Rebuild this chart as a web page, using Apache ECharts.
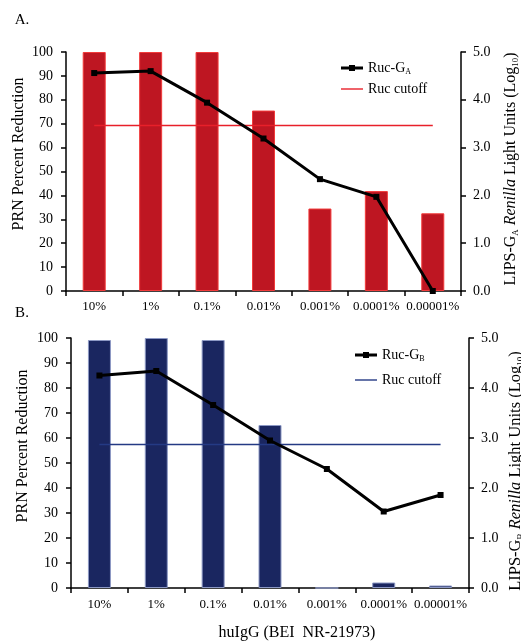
<!DOCTYPE html>
<html>
<head>
<meta charset="utf-8">
<script src="https://cdn.jsdelivr.net/npm/echarts@6/dist/echarts.min.js"></script>
<style>
html,body{margin:0;padding:0;background:#fff;}
#c{width:521px;height:644px;}
</style>
</head>
<body>
<div id="c"></div>
<script>
const categories = ['10%', '1%', '0.1%', '0.01%', '0.001%', '0.0001%', '0.00001%'];
const prnA = [100, 100, 100, 75.5, 34.5, 41.8, 32.5];
const lipsA = [4.56, 4.60, 3.94, 3.19, 2.34, 1.97, 0.0];
const cutoffA = 3.46;
const prnB = [99.2, 100, 99.2, 65.2, 0, 2.2, 1.0];
const lipsB = [4.25, 4.34, 3.66, 2.95, 2.38, 1.53, 1.86];
const cutoffB = 2.87;
const leftTicks = { min: 0, max: 100, interval: 10 };
const rightTicks = { min: 0, max: 5, interval: 1 };

const FONT = 'Liberation Serif';
const chart = echarts.init(document.getElementById('c'), null, { renderer: 'canvas' });

const axisLineStyle = { show: true, lineStyle: { color: '#000', width: 1.5 } };
const tickStyle = { show: true, length: 5, lineStyle: { color: '#000', width: 1.5 } };

function xAxis(gridIndex, margin) {
  return {
    type: 'category', gridIndex, data: categories,
    axisLine: axisLineStyle, axisTick: tickStyle,
    axisLabel: { fontFamily: FONT, fontSize: 13, color: '#000', margin, interval: 0 },
    splitLine: { show: false }
  };
}
function yLeft(gridIndex, margin) {
  return {
    type: 'value', gridIndex, position: 'left',
    min: leftTicks.min, max: leftTicks.max, interval: leftTicks.interval,
    axisLine: axisLineStyle, axisTick: tickStyle,
    axisLabel: { fontFamily: FONT, fontSize: 14, color: '#000', margin },
    splitLine: { show: false }
  };
}
function yRight(gridIndex, margin) {
  return {
    type: 'value', gridIndex, position: 'right',
    min: rightTicks.min, max: rightTicks.max, interval: rightTicks.interval,
    axisLine: axisLineStyle, axisTick: tickStyle,
    axisLabel: { fontFamily: FONT, fontSize: 14, color: '#000', margin, formatter: v => v.toFixed(1) },
    splitLine: { show: false }
  };
}

const legendRich = {
  n: { fontFamily: FONT, fontSize: 14, color: '#000' },
  s: { fontFamily: FONT, fontSize: 8, color: '#000', verticalAlign: 'bottom', padding: [8, 0, 0, 0] }
};
const legendNames = {
  'Ruc-GA': '{n|Ruc-G}{s|A}',
  'Ruc-GB': '{n|Ruc-G}{s|B}',
  'Ruc cutoff A': '{n|Ruc cutoff}',
  'Ruc cutoff B': '{n|Ruc cutoff}'
};
const lineIcon = 'path://M0,0 L22,0 L22,1.4 L0,1.4 Z';
const markIcon = 'path://M0,1.5 L22,1.5 L22,4.5 L0,4.5 Z M8,0 L14,0 L14,6 L8,6 Z';

function titleRich(fs) {
  return {
    a: { fontFamily: FONT, fontSize: fs, color: '#000' },
    i: { fontFamily: FONT, fontSize: fs, color: '#000', fontStyle: 'italic' },
    s: { fontFamily: FONT, fontSize: fs * 0.55, color: '#000', verticalAlign: 'bottom', padding: [fs * 0.6, 0, 0, 0] }
  };
}

function textEl(x, y, text, rot, fs, rich) {
  return {
    type: 'text', x, y, rotation: rot,
    style: {
      text, fontFamily: FONT, fontSize: fs, fill: '#000',
      align: 'center', verticalAlign: 'middle', rich
    }
  };
}

const option = {
  animation: false,
  backgroundColor: '#fff',
  grid: [
    { left: 66, right: 60, top: 52, bottom: 353, containLabel: false },
    { left: 71, right: 52, top: 338, bottom: 56, containLabel: false }
  ],
  xAxis: [xAxis(0, 9), xAxis(1, 10)],
  yAxis: [yLeft(0, 13), yRight(0, 12), yLeft(1, 13), yRight(1, 12)],
  legend: [
    {
      orient: 'vertical', left: 336, top: 56, itemWidth: 22, itemHeight: 14, itemGap: 6,
      symbolKeepAspect: true,
      data: [{ name: 'Ruc-GA', icon: markIcon }, { name: 'Ruc cutoff A', icon: lineIcon }],
      formatter: n => legendNames[n],
      textStyle: { fontFamily: FONT, fontSize: 14, color: '#000', rich: legendRich }
    },
    {
      orient: 'vertical', left: 350, top: 343, itemWidth: 22, itemHeight: 14, itemGap: 10,
      symbolKeepAspect: true,
      data: [{ name: 'Ruc-GB', icon: markIcon }, { name: 'Ruc cutoff B', icon: lineIcon }],
      formatter: n => legendNames[n],
      textStyle: { fontFamily: FONT, fontSize: 14, color: '#000', rich: legendRich }
    }
  ],
  series: [
    {
      name: 'PRN A', type: 'bar', xAxisIndex: 0, yAxisIndex: 0, data: prnA, barWidth: 23,
      itemStyle: { color: '#BE1622', borderColor: '#F23A3A', borderWidth: 1 }
    },
    {
      name: 'Ruc cutoff A', type: 'line', xAxisIndex: 0, yAxisIndex: 1,
      data: categories.map(() => cutoffA), symbol: 'none',
      lineStyle: { color: '#E8202A', width: 1.5 }, itemStyle: { color: '#E8202A' }
    },
    {
      name: 'Ruc-GA', type: 'line', xAxisIndex: 0, yAxisIndex: 1, data: lipsA,
      symbol: 'rect', symbolSize: 6, showSymbol: true,
      lineStyle: { color: '#000', width: 3 }, itemStyle: { color: '#000' }
    },
    {
      name: 'PRN B', type: 'bar', xAxisIndex: 1, yAxisIndex: 2, data: prnB, barWidth: 23,
      itemStyle: { color: '#1A2660', borderColor: '#8C98C4', borderWidth: 1 }
    },
    {
      name: 'Ruc cutoff B', type: 'line', xAxisIndex: 1, yAxisIndex: 3,
      data: categories.map(() => cutoffB), symbol: 'none',
      lineStyle: { color: '#243A84', width: 1.5 }, itemStyle: { color: '#243A84' }
    },
    {
      name: 'Ruc-GB', type: 'line', xAxisIndex: 1, yAxisIndex: 3, data: lipsB,
      symbol: 'rect', symbolSize: 6, showSymbol: true,
      lineStyle: { color: '#000', width: 3 }, itemStyle: { color: '#000' }
    }
  ],
  graphic: [
    textEl(22, 20, 'A.', 0, 15),
    textEl(22, 313, 'B.', 0, 15),
    textEl(19, 154, 'PRN Percent Reduction', Math.PI / 2, 16),
    textEl(23, 446, 'PRN Percent Reduction', Math.PI / 2, 16),
    textEl(511, 169, '{a|LIPS-G}{s|A}{a| }{i|Renilla}{a| Light Units (Log}{s|10}{a|)}', Math.PI / 2, 16, titleRich(16)),
    textEl(516, 471, '{a|LIPS-G}{s|B}{a| }{i|Renilla}{a| Light Units (Log}{s|10}{a|)}', Math.PI / 2, 16.5, titleRich(16.5)),
    textEl(297, 633, 'huIgG (BEI  NR-21973)', 0, 16)
  ]
};
chart.setOption(option);
</script>
</body>
</html>
